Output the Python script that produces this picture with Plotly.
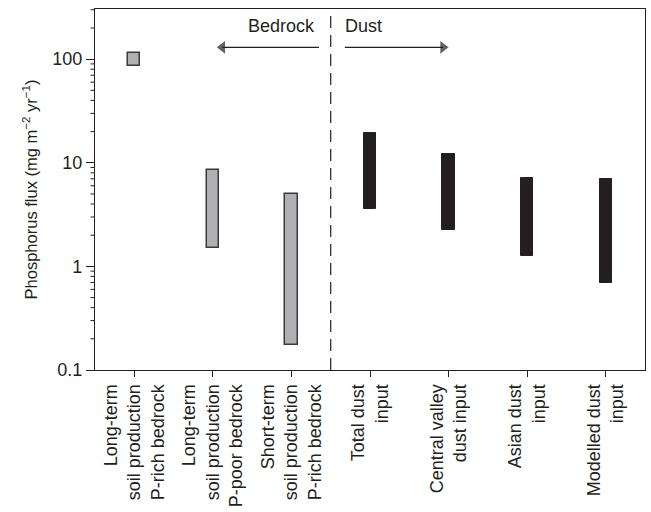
import plotly.graph_objects as go
import numpy as np

categories = [
    "Long-term<br>soil production<br>P-rich bedrock",
    "Long-term<br>soil production<br>P-poor bedrock",
    "Short-term<br>soil production<br>P-rich bedrock",
    "Total dust<br>input",
    "Central valley<br>dust input",
    "Asian dust<br>input",
    "Modelled dust<br>input",
]
low = [86, 1.52, 0.173, 3.55, 2.27, 1.25, 0.69]
high = [114, 8.6, 4.95, 19.4, 12.1, 7.15, 7.05]
group = ["bedrock", "bedrock", "bedrock", "dust", "dust", "dust", "dust"]
major_ticks = [0.1, 1, 10, 100]
minor_ticks = [m * d for d in [0.1, 1, 10, 100] for m in range(2, 10)]

ink = "#231f20"
xs = list(range(len(categories)))
yrange = [-1, np.log10(305)]
plot_w = 651 - 95 - 5

fig = go.Figure()
bed = [i for i, g in enumerate(group) if g == "bedrock"]
dust = [i for i, g in enumerate(group) if g == "dust"]
fig.add_trace(go.Bar(
    x=[xs[i] for i in bed],
    base=[low[i] for i in bed],
    y=[high[i] - low[i] for i in bed],
    width=0.155,
    marker=dict(color="#b0b0b4", line=dict(color="#3a3a3a", width=1.5)),
    showlegend=False, hoverinfo="skip",
))
fig.add_trace(go.Bar(
    x=[xs[i] for i in dust],
    base=[low[i] for i in dust],
    y=[high[i] - low[i] for i in dust],
    width=0.155,
    marker=dict(color=ink, line=dict(color=ink, width=1)),
    showlegend=False, hoverinfo="skip",
))

# arrows
for x0, x1, sym in [(2.35, 1.12, "triangle-left"), (2.68, 3.93, "triangle-right")]:
    fig.add_trace(go.Scatter(
        x=[x0, x1], y=[130, 130], mode="lines+markers",
        line=dict(color=ink, width=1.4),
        marker=dict(symbol=sym, size=[0, 11], color=ink, line=dict(width=0)),
        showlegend=False, hoverinfo="skip",
    ))

# divider
fig.add_shape(type="line", xref="x", yref="paper", x0=2.5, x1=2.5, y0=0, y1=1,
              line=dict(color=ink, width=1.2, dash="12px,7px"))

# minor ticks on the log axis (shape y in data units)
for v in minor_ticks:
    if np.log10(v) <= yrange[1]:
        fig.add_shape(type="line", xref="paper", yref="y",
                      x0=-4.5 / plot_w, x1=0, y0=v, y1=v,
                      line=dict(color=ink, width=1), layer="above")

fig.add_annotation(x=2.33, y=np.log10(210), xref="x", yref="y", text="Bedrock",
                   showarrow=False, xanchor="right", font=dict(size=18, color=ink))
fig.add_annotation(x=2.66, y=np.log10(210), xref="x", yref="y", text="Dust",
                   showarrow=False, xanchor="left", font=dict(size=18, color=ink))

fig.update_layout(
    width=651, height=512,
    margin=dict(l=95, r=5, t=9, b=140),
    plot_bgcolor="white", paper_bgcolor="white",
    font=dict(family="Liberation Sans, Arial, sans-serif", color=ink),
    bargap=0,
    xaxis=dict(
        range=[-0.5, 6.5], tickmode="array", tickvals=xs, ticktext=categories, tickangle=-90,
        ticks="outside", ticklen=6, tickcolor=ink, tickwidth=1.2,
        showline=True, linecolor=ink, linewidth=1.2, mirror=True,
        showgrid=False, zeroline=False, tickfont=dict(size=18, color=ink),
    ),
    yaxis=dict(
        type="log", range=yrange,
        tickmode="array", tickvals=major_ticks, ticktext=[str(v) for v in major_ticks],
        ticks="outside", ticklen=8, tickcolor=ink, tickwidth=1.2,
        showline=True, linecolor=ink, linewidth=1.2, mirror=True,
        showgrid=False, zeroline=False, tickfont=dict(size=18, color=ink),
        title=dict(text="Phosphorus flux (mg m<sup>−2</sup> yr<sup>−1</sup>)",
                   font=dict(size=16.5, color=ink), standoff=10),
    ),
)
fig.write_html("out.html")
